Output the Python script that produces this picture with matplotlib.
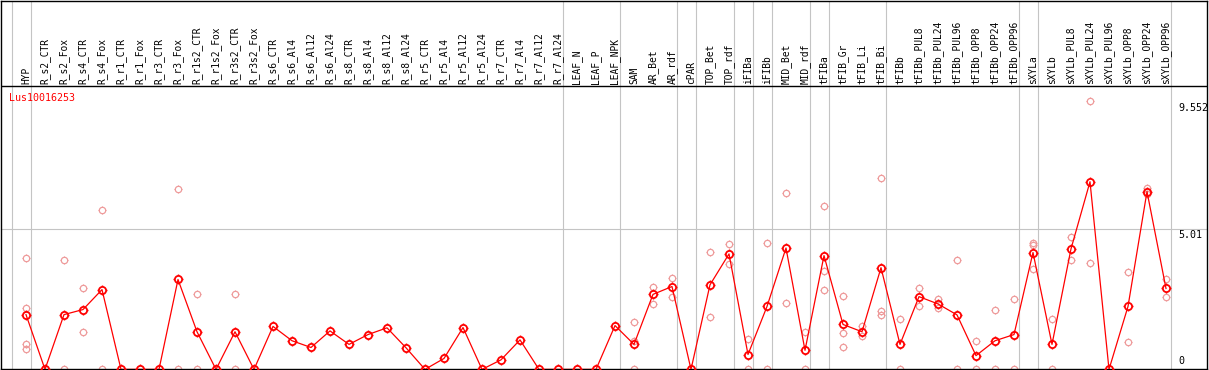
import numpy as np
import matplotlib
matplotlib.use("Agg")
import matplotlib.pyplot as plt
from matplotlib.path import Path

GENE = "Lus10016253"
SAMPLES = [
    "HYP", "R_s2_CTR", "R_s2_Fox", "R_s4_CTR", "R_s4_Fox", "R_r1_CTR", "R_r1_Fox",
    "R_r3_CTR", "R_r3_Fox", "R_r1s2_CTR", "R_r1s2_Fox", "R_r3s2_CTR", "R_r3s2_Fox",
    "R_s6_CTR", "R_s6_Al4", "R_s6_Al12", "R_s6_Al24", "R_s8_CTR", "R_s8_Al4",
    "R_s8_Al12", "R_s8_Al24", "R_r5_CTR", "R_r5_Al4", "R_r5_Al12", "R_r5_Al24",
    "R_r7_CTR", "R_r7_Al4", "R_r7_Al12", "R_r7_Al24", "LEAF_N", "LEAF_P", "LEAF_NPK",
    "SAM", "AR_Bet", "AR_rdf", "cPAR", "TOP_Bet", "TOP_rdf", "iFIBa", "iFIBb",
    "MID_Bet", "MID_rdf", "tFIBa", "tFIB_Gr", "tFIB_Li", "tFIB_Bi", "tFIBb",
    "tFIBb_PUL8", "tFIBb_PUL24", "tFIBb_PUL96", "tFIBb_OPP8", "tFIBb_OPP24",
    "tFIBb_OPP96", "sXYLa", "sXYLb", "sXYLb_PUL8", "sXYLb_PUL24", "sXYLb_PUL96",
    "sXYLb_OPP8", "sXYLb_OPP24", "sXYLb_OPP96",
]
MEANS = [
    1.95, 0, 1.95, 2.13, 2.84, 0, 0, 0, 3.20, 1.34, 0, 1.34, 0,
    1.53, 1.02, 0.78, 1.37, 0.89, 1.24, 1.48, 0.77, 0, 0.39, 1.49, 0,
    0.34, 1.05, 0, 0, 0, 0, 1.56,
    0.89, 2.67, 2.95, 0, 3.01, 4.11, 0.53, 2.24, 4.32, 0.68, 4.05, 1.60,
    1.34, 3.62, 0.89, 2.59, 2.33, 1.94, 0.49, 1.02, 1.24, 4.16, 0.89,
    4.29, 6.68, 0, 2.24, 6.33, 2.88,
]
# replicate values (sample index -> values)
REPS = {
    0: [3.97, 2.20, 0.92, 0.73], 2: [3.90, 0], 3: [2.90, 1.34], 4: [5.67, 0],
    8: [6.42, 0], 9: [2.69, 0], 11: [2.69, 0],
    32: [1.69, 1.01, 0], 33: [2.95, 2.32], 34: [3.27, 2.59], 36: [4.19, 1.88],
    37: [4.48, 3.76], 38: [1.07, 0], 39: [4.51, 0], 40: [6.28, 2.37],
    41: [1.34, 0], 42: [5.82, 3.51, 2.83], 43: [2.62, 1.30, 0.81],
    44: [1.54, 1.18], 45: [6.81, 2.07, 1.94], 46: [1.80, 0], 47: [2.91, 2.26],
    48: [2.51, 2.17], 49: [3.90, 0], 50: [1.02, 0], 51: [2.10, 0], 52: [2.49, 0],
    53: [4.51, 4.41, 3.58], 54: [1.81, 0], 55: [4.71, 3.90], 56: [9.552, 3.77],
    58: [3.47, 0.96], 59: [6.44, 6.24], 60: [3.20, 2.58],
}
GROUP_BREAKS = [-1, 0, 28, 31, 34, 35, 37, 38, 39, 41, 42, 45, 52, 53, 60]
YMAX_LABEL = 9.552
YMID_LABEL = 5.01

# scale: 0 at row 369, 5.01 at row 228
PX_PER_UNIT = 141 / 5.01
YTOP = 369 / PX_PER_UNIT
HEADER = (369 - 85) / PX_PER_UNIT

# four little ticks around each ring
verts, codes = [], []
for dx, dy in [(1, 0), (-1, 0), (0, 1), (0, -1)]:
    verts += [(dx * 0.7, dy * 0.7), (dx, dy)]
    codes += [Path.MOVETO, Path.LINETO]
TICKS = Path(verts, codes)


def ring(ax, xs, ys, color, ms, lw, z):
    ax.plot(xs, ys, linestyle="none", marker="o", ms=ms, mfc="none",
            mec=color, mew=lw, zorder=z)
    ax.plot(xs, ys, linestyle="none", marker=TICKS, ms=ms * 1.4,
            mec=color, mew=lw * 0.8, zorder=z)


fig = plt.figure(figsize=(12.09, 3.70), dpi=100)
ax = fig.add_axes([1 / 1209, 0.6 / 370, 1206 / 1209, 368.4 / 370])
ax.set_xlim(-25 / 19, 60 + 41 / 19)
ax.set_ylim(0, YTOP)
ax.set_xticks([]); ax.set_yticks([])
for s in ax.spines.values():
    s.set_color("black"); s.set_linewidth(1.0)

for b in GROUP_BREAKS:
    ax.axvline(b + 0.25, color="#c4c4c4", lw=0.8, zorder=1)
ax.axhline(YMID_LABEL, color="#c4c4c4", lw=0.8, zorder=1)
ax.axhline(HEADER, color="black", lw=1.0, zorder=3)

x = np.arange(len(SAMPLES))
for i, vals in REPS.items():
    ring(ax, [i] * len(vals), vals, "#ee9a9a", 4.6, 0.9, 2)
ax.plot(x, MEANS, "-", color="#ff0000", lw=0.9, zorder=4)
ring(ax, x, MEANS, "#ff0000", 5.2, 1.3, 5)

for i, name in enumerate(SAMPLES):
    ax.text(i, HEADER + 2 / PX_PER_UNIT, name, rotation=90, ha="center",
            va="bottom", fontsize=6.9, family="DejaVu Sans Mono", color="black")

ax.text(-0.9, HEADER - 7 / PX_PER_UNIT, GENE, ha="left", va="top",
        fontsize=7.2, family="DejaVu Sans Mono", color="#ff0000")

xr = 60 + 12 / 19
ax.text(xr, YMAX_LABEL - 2 / PX_PER_UNIT, f"{YMAX_LABEL:g}", ha="left", va="top",
        fontsize=7.2, family="DejaVu Sans Mono")
ax.text(xr, YMID_LABEL - 1 / PX_PER_UNIT, f"{YMID_LABEL:g}", ha="left", va="top",
        fontsize=7.2, family="DejaVu Sans Mono")
ax.text(xr, 3 / PX_PER_UNIT, "0", ha="left", va="bottom",
        fontsize=7.2, family="DejaVu Sans Mono")

fig.savefig("out.png", dpi=100)
